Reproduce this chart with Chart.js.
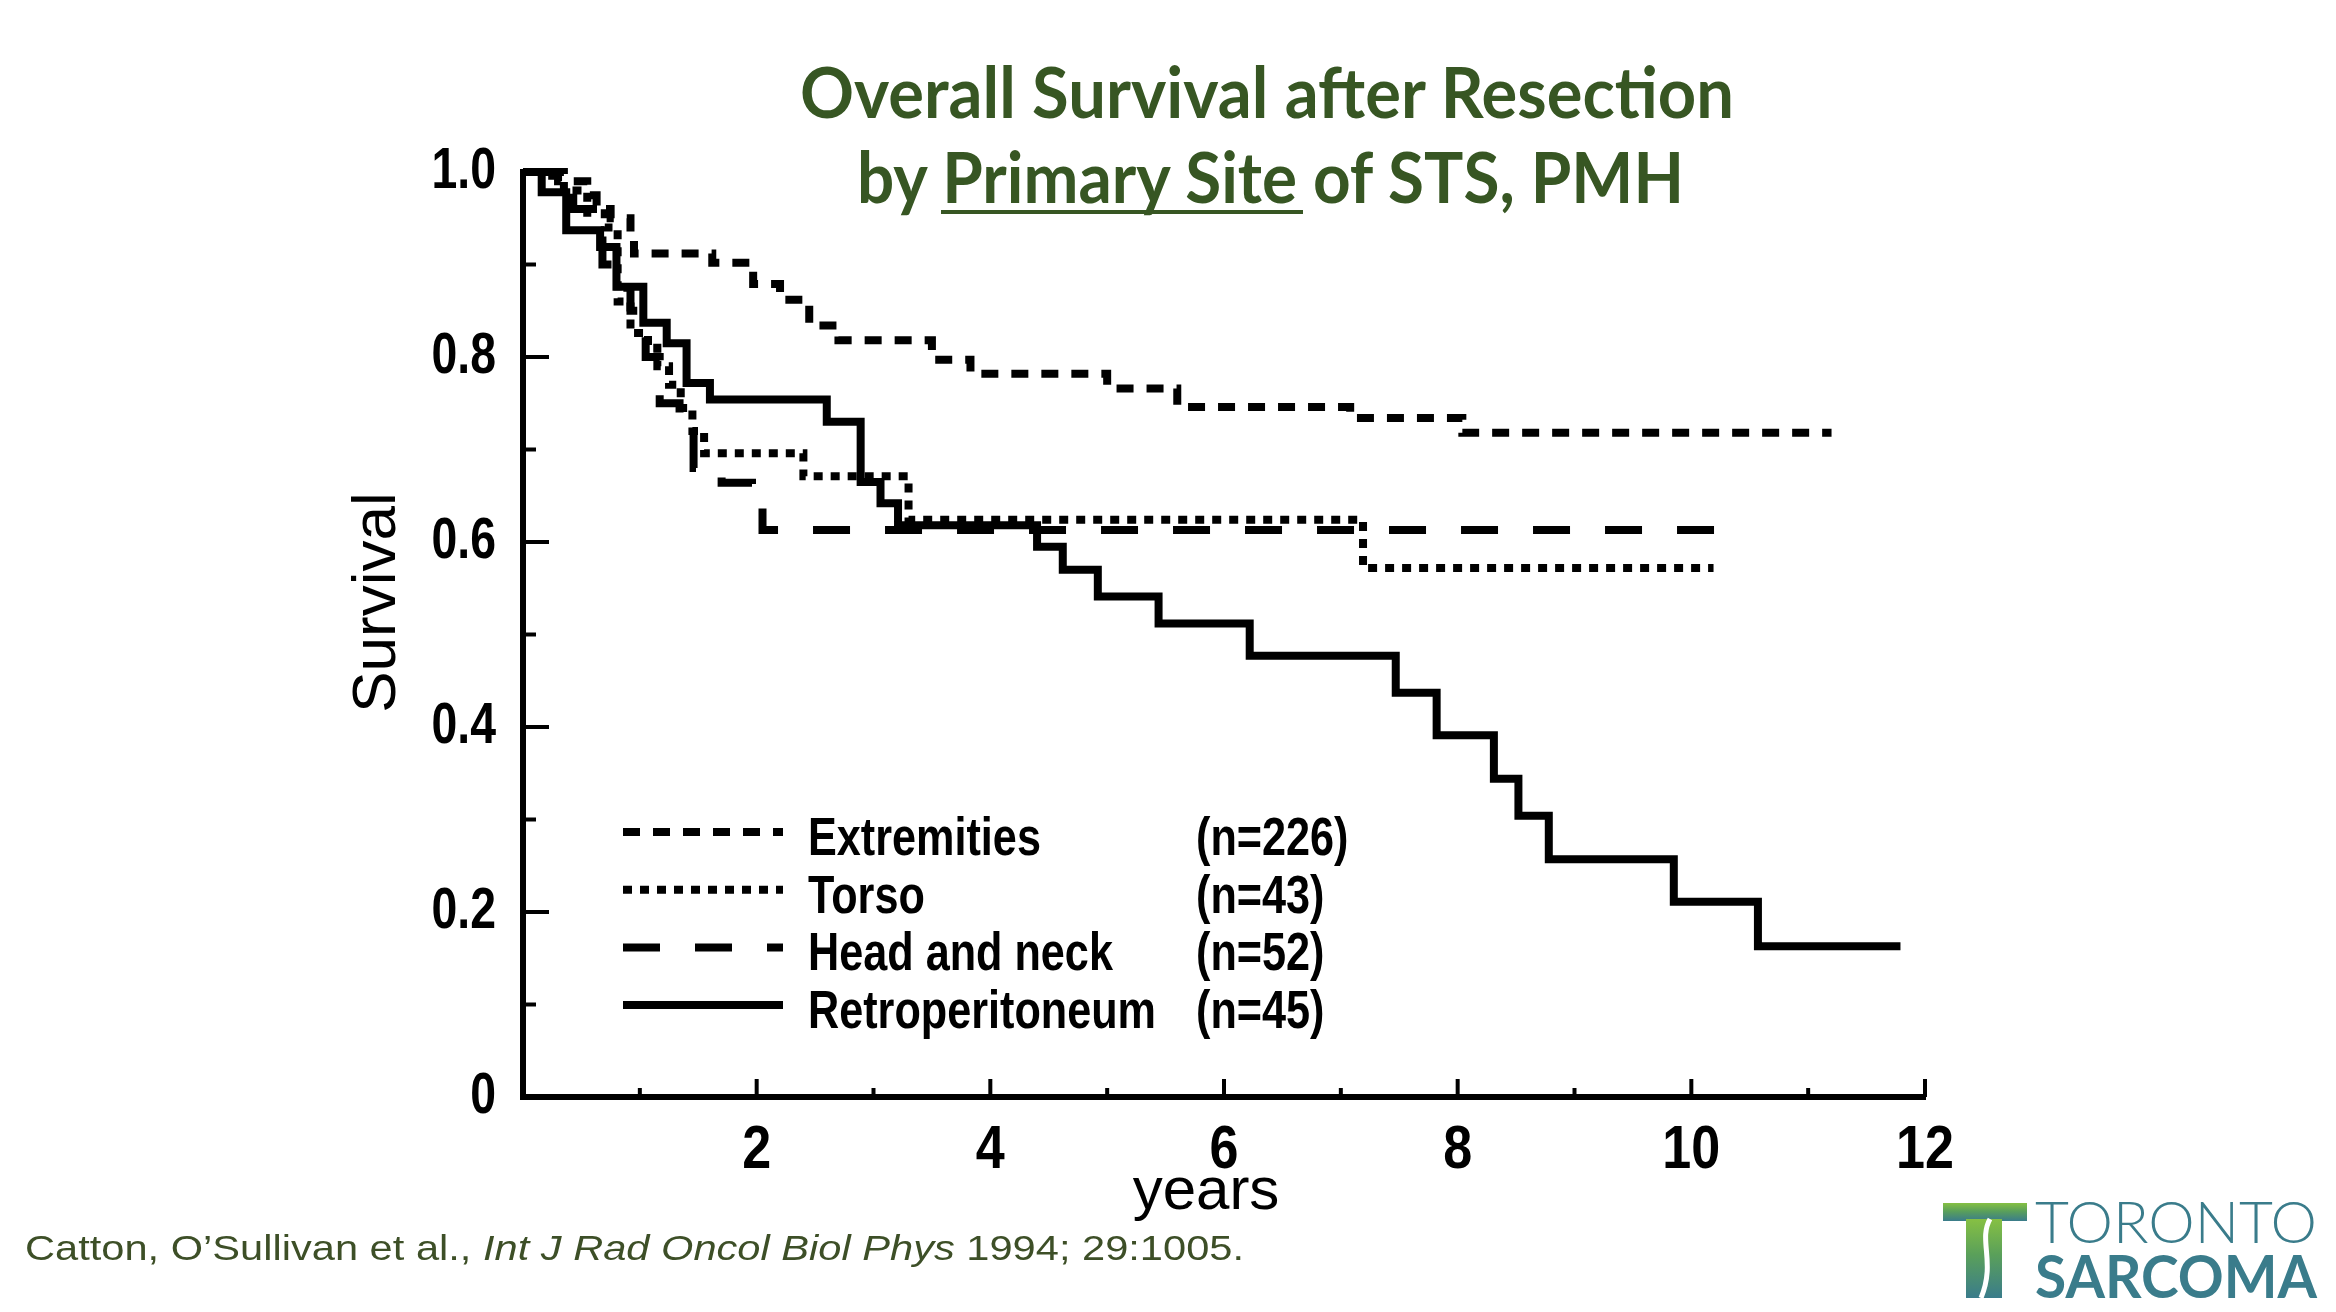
<!DOCTYPE html>
<html><head><meta charset="utf-8">
<script src="https://cdn.jsdelivr.net/npm/chart.js@4.4.1/dist/chart.umd.min.js"></script>
<style>
html,body{margin:0;padding:0;background:#fff;}
#wrap{position:relative;width:2336px;height:1312px;overflow:hidden;background:#fff;}
#c{position:absolute;left:0;top:0;width:2336px;height:1312px;}
#ov{position:absolute;left:0;top:0;pointer-events:none;}
</style></head><body>
<div id="wrap">
<canvas id="c" width="2336" height="1312"></canvas>
<svg id="ov" width="2336" height="1312" xmlns="http://www.w3.org/2000/svg">
 <defs>
  <linearGradient id="tg" x1="0" y1="0" x2="0" y2="1">
   <stop offset="0" stop-color="#86c043"/><stop offset="0.45" stop-color="#5aa05a"/><stop offset="1" stop-color="#3a7c8b"/>
  </linearGradient>
 </defs>
 <text x="800" y="118" textLength="934" lengthAdjust="spacingAndGlyphs" font-family="Lato, 'Open Sans', sans-serif" font-weight="700" font-size="70" fill="#375623">Overall Survival after Resection</text>
 <text x="857" y="203" textLength="827" lengthAdjust="spacingAndGlyphs" font-family="Lato, 'Open Sans', sans-serif" font-weight="700" font-size="70" fill="#375623">by Primary Site of STS, PMH</text>
 <rect x="941" y="210" width="362" height="4" fill="#375623"/>
 <text x="25" y="1260" textLength="1219" lengthAdjust="spacingAndGlyphs" font-family="'Liberation Sans', Arial, sans-serif" font-size="35" fill="#3d4f27">Catton, O’Sullivan et al., <tspan font-style="italic">Int J Rad Oncol Biol Phys</tspan> 1994; 29:1005.</text>
 <rect x="1943" y="1203" width="84" height="18" fill="url(#tg)"/>
 <rect x="1966" y="1219" width="36" height="79" fill="url(#tg)"/>
 <path d="M1990,1219 C1978,1240 1996,1262 1981,1298" stroke="#fff" stroke-width="5" fill="none"/>
 <text x="2035" y="1243" textLength="282" lengthAdjust="spacingAndGlyphs" font-family="Lato, sans-serif" font-weight="300" font-size="57" fill="#3a7c8b">TORONTO</text>
 <text x="2035" y="1298" textLength="282" lengthAdjust="spacingAndGlyphs" font-family="Lato, sans-serif" font-weight="700" font-size="60" fill="#3a7c8b">SARCOMA</text>
</svg>
</div>
<script>
// ---- tick labels ----
const xTickValues = [2, 4, 6, 8, 10, 12];
const xTickLabels = ['2', '4', '6', '8', '10', '12'];
const yTickValues = [0, 0.2, 0.4, 0.6, 0.8, 1.0];
const yTickLabels = ['0', '0.2', '0.4', '0.6', '0.8', '1.0'];

// ---- series ----
const seriesNames = ['Extremities', 'Torso', 'Head and neck', 'Retroperitoneum'];
const seriesCounts = ['(n=226)', '(n=43)', '(n=52)', '(n=45)'];

const extremitiesYears    = [0, 0.3, 0.55, 0.63, 0.75, 0.92, 0.95, 1.62, 1.97, 2.2, 2.45, 2.7, 3.5, 3.83, 5.0, 5.6, 7.08, 8.04, 11.2];
const extremitiesSurvival = [1.0, 0.99, 0.975, 0.96, 0.95, 0.93, 0.912, 0.902, 0.879, 0.862, 0.834, 0.818, 0.797, 0.782, 0.766, 0.746, 0.734, 0.718, 0.718];

const torsoYears    = [0, 0.35, 0.55, 0.7, 0.81, 0.92, 1.07, 1.15, 1.25, 1.35, 1.45, 1.55, 2.4, 3.3, 7.19, 10.19];
const torsoSurvival = [1.0, 0.98, 0.96, 0.94, 0.86, 0.826, 0.81, 0.79, 0.77, 0.745, 0.72, 0.696, 0.671, 0.624, 0.572, 0.572];

const headNeckYears    = [0, 0.25, 0.43, 0.55, 0.68, 0.8, 0.92, 1.05, 1.17, 1.34, 1.46, 1.7, 1.96, 2.05, 10.48];
const headNeckSurvival = [1.0, 0.98, 0.96, 0.94, 0.90, 0.875, 0.85, 0.80, 0.75, 0.73, 0.68, 0.664, 0.642, 0.613, 0.613];

const retroYears    = [0, 0.16, 0.37, 0.66, 0.8, 1.03, 1.23, 1.4, 1.6, 2.6, 2.89, 3.06, 3.21, 4.4, 4.62, 4.92, 5.44, 6.22, 7.47, 7.82, 8.31, 8.52, 8.78, 9.85, 10.57, 11.79];
const retroSurvival = [1.0, 0.978, 0.937, 0.919, 0.876, 0.837, 0.815, 0.772, 0.754, 0.73, 0.665, 0.642, 0.618, 0.595, 0.57, 0.541, 0.512, 0.477, 0.437, 0.391, 0.344, 0.304, 0.257, 0.211, 0.163, 0.163];

const toPoints = (xs, ys) => xs.map((x, i) => ({x: x, y: ys[i]}));
const labelFor = (v, values, labels) => {
  const i = values.findIndex(t => Math.abs(t - v) < 1e-6);
  return i >= 0 ? labels[i] : '';
};

const sans = "'Liberation Sans', Arial, sans-serif";

const dashes = [[17, 13], [9, 8], [37, 35], []];
const allYears = [extremitiesYears, torsoYears, headNeckYears, retroYears];
const allSurv = [extremitiesSurvival, torsoSurvival, headNeckSurvival, retroSurvival];

const datasets = seriesNames.map((name, i) => ({
  label: name,
  data: toPoints(allYears[i], allSurv[i]),
  stepped: 'before',
  borderColor: '#000',
  borderWidth: 8,
  borderDash: dashes[i],
  borderCapStyle: 'butt',
  borderJoinStyle: 'miter',
  pointRadius: 0,
  fill: false,
  clip: false
}));

// draw text horizontally condensed (and optionally shifted) while a scale draws its labels/title
function withCondensedText(ctx, sx, dx, fn) {
  const native = CanvasRenderingContext2D.prototype.fillText;
  ctx.fillText = function (text, x, y, maxWidth) {
    this.save();
    this.translate(x + dx, y);
    this.scale(sx, 1);
    native.call(this, text, 0, 0);
    this.restore();
  };
  try { fn(); } finally { delete ctx.fillText; }
}
function condenseScale(scale, labelSx, titleSx, titleDx) {
  if (scale._condensed) return;
  scale._condensed = true;
  const dl = scale.drawLabels.bind(scale);
  const dt = scale.drawTitle.bind(scale);
  scale.drawLabels = function (area) { withCondensedText(scale.ctx, labelSx, 0, () => dl(area)); };
  scale.drawTitle = function (area) { withCondensedText(scale.ctx, titleSx, titleDx, () => dt(area)); };
}
const condensedAxes = {
  id: 'condensedAxes',
  beforeDraw(chart) {
    condenseScale(chart.scales.x, 0.84, 1, -18);
    condenseScale(chart.scales.y, 0.8, 1, 32);
  }
};

const inwardTicks = {
  id: 'inwardTicks',
  afterDraw(chart) {
    const {ctx, chartArea: a, scales: {x, y}} = chart;
    ctx.save();
    ctx.strokeStyle = '#000';
    ctx.lineWidth = 4;
    y.ticks.forEach(t => {
      if (t.value <= 0.001 || t.value >= 0.999) return;
      const py = y.getPixelForValue(t.value);
      const major = labelFor(t.value, yTickValues, yTickLabels) !== '';
      ctx.beginPath(); ctx.moveTo(a.left, py); ctx.lineTo(a.left + (major ? 26 : 13), py); ctx.stroke();
    });
    x.ticks.forEach(t => {
      if (t.value <= 0.001) return;
      const px = x.getPixelForValue(t.value);
      const major = labelFor(t.value, xTickValues, xTickLabels) !== '';
      ctx.beginPath(); ctx.moveTo(px, a.bottom); ctx.lineTo(px, a.bottom - (major ? 18 : 9)); ctx.stroke();
    });
    ctx.restore();
  }
};

const kmLegend = {
  id: 'kmLegend',
  afterDatasetsDraw(chart) {
    const {ctx, chartArea: a} = chart;
    ctx.save();
    chart.data.datasets.forEach((ds, i) => {
      const ly = a.top + 660 + i * 57.7;
      ctx.strokeStyle = '#000';
      ctx.lineWidth = 8;
      ctx.setLineDash(ds.borderDash);
      ctx.beginPath(); ctx.moveTo(a.left + 100, ly); ctx.lineTo(a.left + 260, ly); ctx.stroke();
      ctx.setLineDash([]);
      ctx.fillStyle = '#000';
      ctx.font = 'bold 54px ' + sans;
      ctx.textBaseline = 'alphabetic';
      ctx.textAlign = 'left';
      [[seriesNames[i], a.left + 285], [seriesCounts[i], a.left + 673]].forEach(([txt, tx]) => {
        ctx.save();
        ctx.translate(tx, ly + 23);
        ctx.scale(0.8, 1);
        ctx.fillText(txt, 0, 0);
        ctx.restore();
      });
    });
    ctx.restore();
  }
};

new Chart(document.getElementById('c'), {
  type: 'line',
  data: {datasets: datasets},
  options: {
    responsive: false,
    animation: false,
    devicePixelRatio: 1,
    layout: {padding: {left: 336, right: 411, top: 172, bottom: 0}},
    plugins: {legend: {display: false}, tooltip: {enabled: false}, title: {display: false}},
    scales: {
      x: {
        type: 'linear', min: 0, max: 12,
        afterFit(s) { s.height = 215; },
        grid: {display: false, drawTicks: false},
        border: {display: true, width: 6, color: '#000'},
        ticks: {stepSize: 1, autoSkip: false, maxRotation: 0, padding: 17, color: '#000',
          font: {family: sans, size: 62, weight: 'bold'},
          callback: v => labelFor(v, xTickValues, xTickLabels)},
        title: {display: true, text: 'years', color: '#000', font: {family: sans, size: 60}, padding: {top: 0, bottom: 84}}
      },
      y: {
        type: 'linear', min: 0, max: 1,
        afterFit(s) { s.width = 187; },
        grid: {display: false, drawTicks: false},
        border: {display: true, width: 6, color: '#000'},
        ticks: {stepSize: 0.1, autoSkip: false, padding: 27, color: '#000',
          font: {family: sans, size: 58, weight: 'bold'},
          callback: v => labelFor(v, yTickValues, yTickLabels)},
        title: {display: true, text: 'Survival', color: '#000', font: {family: sans, size: 62}, padding: {top: 5, bottom: 0}}
      }
    }
  },
  plugins: [condensedAxes, inwardTicks, kmLegend]
});
</script>
</body></html>
